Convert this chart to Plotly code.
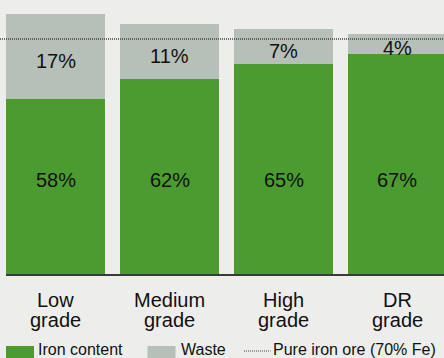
import plotly.graph_objects as go

categories = ["Low grade", "Medium grade", "High grade", "DR grade"]
cat_line1 = ["Low", "Medium", "High", "DR"]
cat_line2 = ["grade", "grade", "grade", "grade"]
iron = [58, 62, 65, 67]
waste = [17, 11, 7, 4]
pure_iron = 70
legend_labels = ["Iron content", "Waste", "Pure iron ore (70% Fe)"]

GREEN = "#4b9b30"
GRAY = "#b6bfb8"
BG = "#edeeec"
FONT = "Liberation Sans, Arial, Helvetica, sans-serif"
W, H = 444, 358
PH = 275  # plot height in px
BW = 0.868

def py(px):  # pixel y (from top) -> paper y
    return (PH - px) / PH

def pxx(px):
    return px / W

x = list(range(len(categories)))
fig = go.Figure()
fig.add_trace(go.Bar(x=x, y=iron, marker=dict(color=GREEN, line_width=0), width=BW,
                     name=legend_labels[0], hoverinfo="skip"))
fig.add_trace(go.Bar(x=x, y=waste, marker=dict(color=GRAY, line_width=0), width=BW,
                     name=legend_labels[1], hoverinfo="skip"))

ann = []
for i, (g, w) in enumerate(zip(iron, waste)):
    ann.append(dict(x=i, y=41.8, xref="x", yref="y", text=f"{g}%", showarrow=False,
                    font=dict(size=20, color="#111", family=FONT)))
    ann.append(dict(x=i, y=g + w / 2, xref="x", yref="y", text=f"{w}%", showarrow=False,
                    yshift=-4, font=dict(size=20, color="#111", family=FONT)))
    ann.append(dict(x=i, y=py(300), xref="x", yref="paper", text=cat_line1[i], showarrow=False,
                    yanchor="middle", font=dict(size=20, color="#111", family=FONT)))
    ann.append(dict(x=i, y=py(320), xref="x", yref="paper", text=cat_line2[i], showarrow=False,
                    yanchor="middle", font=dict(size=20, color="#111", family=FONT)))

# legend (manual)
leg_x_text = [36, 179, 271]
for lx, lab in zip(leg_x_text, legend_labels):
    ann.append(dict(x=pxx(lx), y=py(349.5), xref="paper", yref="paper", text=lab, showarrow=False,
                    xanchor="left", yanchor="middle", font=dict(size=16, color="#111", family=FONT)))

shapes = [
    # axis baseline
    dict(type="line", xref="x", yref="paper", x0=-BW / 2, x1=3.6, y0=0, y1=0,
         line=dict(color="#3a3a3a", width=2), layer="above"),
    # pure iron line
    dict(type="line", xref="paper", yref="y", x0=0, x1=1, y0=pure_iron, y1=pure_iron,
         line=dict(color="#444", width=1.5, dash="1px,1px"), layer="above"),
    # legend swatches
    dict(type="rect", xref="paper", yref="paper", x0=pxx(6), x1=pxx(34), y0=py(346), y1=py(362),
         fillcolor=GREEN, line_width=0),
    dict(type="rect", xref="paper", yref="paper", x0=pxx(147.5), x1=pxx(175.5), y0=py(346), y1=py(362),
         fillcolor=GRAY, line_width=0),
    dict(type="line", xref="paper", yref="paper", x0=pxx(244), x1=pxx(270.5), y0=py(351), y1=py(351),
         line=dict(color="#444", width=1, dash="1px,1px")),
]

fig.update_layout(
    barmode="stack",
    width=W, height=H,
    margin=dict(l=0, r=0, t=0, b=H - PH),
    paper_bgcolor=BG, plot_bgcolor=BG,
    showlegend=False,
    xaxis=dict(range=[-0.487, 3.408], showticklabels=False, showgrid=False, zeroline=False,
               showline=False, ticks=""),
    yaxis=dict(range=[22.8, 77.8], showticklabels=False, showgrid=False, zeroline=False,
               showline=False, ticks=""),
    annotations=ann,
    shapes=shapes,
    font=dict(family=FONT),
)

fig.write_html("out.html")
